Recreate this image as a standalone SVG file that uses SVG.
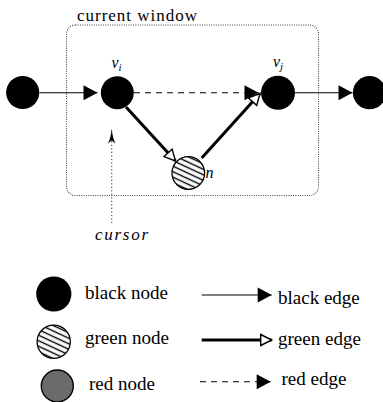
<svg xmlns="http://www.w3.org/2000/svg" width="383" height="402" viewBox="0 0 383 402">
<style>
.bn{fill:#000;}
.gn{fill:url(#hatch);stroke:#000;stroke-width:1.3;}
.rn{fill:#6b6b6b;stroke:#000;stroke-width:1.4;}
.be{stroke:#000;stroke-width:1.1;fill:none;marker-end:url(#fa);}
.ge{stroke:#000;stroke-width:3;fill:none;marker-end:url(#oa);}
.re{stroke:#000;stroke-width:1.1;fill:none;stroke-dasharray:6 5;marker-end:url(#fa);}
.cur{stroke:#555;stroke-width:1.2;fill:none;stroke-dasharray:1.3 2.2;marker-end:url(#ca);}
.win{fill:none;stroke:#444;stroke-width:1.1;stroke-dasharray:1 1.3;}
.tx{font-family:"Liberation Serif",serif;fill:#000;}
.it{font-family:"Liberation Serif",serif;font-style:italic;fill:#000;}
.lg{font-family:"Liberation Serif",serif;font-size:19px;fill:#000;}
</style>
<defs>
<pattern id="hatch" patternUnits="userSpaceOnUse" width="5" height="5" patternTransform="rotate(25)">
<rect width="5" height="5" fill="#fff"/>
<line x1="0" y1="2.5" x2="5" y2="2.5" stroke="#000" stroke-width="1.4"/>
</pattern>
<marker id="fa" markerUnits="userSpaceOnUse" markerWidth="16" markerHeight="17" refX="14" refY="7.5" orient="auto" overflow="visible">
<path d="M0,0 L14,7.5 L0,15 Z" fill="#000"/>
</marker>
<marker id="oa" markerUnits="userSpaceOnUse" markerWidth="16" markerHeight="16" refX="12" refY="6" orient="auto" overflow="visible">
<path d="M1,0.5 L12,6 L1,11.5 Z" fill="#fff" stroke="#000" stroke-width="1.4" stroke-linejoin="miter"/>
</marker>
<marker id="ca" markerUnits="userSpaceOnUse" markerWidth="16" markerHeight="10" refX="15" refY="4" orient="auto" overflow="visible">
<path d="M0,0 Q5,3.2 15,4 Q5,4.8 0,8 L3,4 Z" fill="#000"/>
</marker>
</defs>

<g id="window">
<rect class="win" x="66.5" y="25" width="252" height="170.5" rx="9"/>
<text class="tx" x="77" y="21" font-size="17" textLength="120" lengthAdjust="spacing">current window</text>
</g>

<g id="connectors">
<line class="be" x1="39.5" y1="92.7" x2="97.5" y2="92.7"/>
<line class="re" x1="134" y1="92.7" x2="258.5" y2="92.7"/>
<line class="be" x1="295" y1="92.7" x2="352.5" y2="92.7"/>
<line class="ge" x1="126" y1="107" x2="175.5" y2="161"/>
<line class="ge" x1="201.7" y1="158" x2="260" y2="93.5"/>
<line class="cur" x1="111.7" y1="223" x2="111.7" y2="128.5"/>
</g>

<g id="node-left"><circle class="bn" cx="22.7" cy="92.5" r="16.6"/></g>
<g id="node-vi">
<circle class="bn" cx="117.3" cy="92.7" r="16.5"/>
<text class="it" x="111.5" y="68" font-size="16">v<tspan font-size="11" dy="2.5">i</tspan></text>
</g>
<g id="node-vj">
<circle class="bn" cx="278" cy="92.7" r="17"/>
<text class="it" x="273" y="67" font-size="16">v<tspan font-size="11" dy="3">j</tspan></text>
</g>
<g id="node-right"><circle class="bn" cx="369.5" cy="92.7" r="16.6"/></g>
<g id="node-n">
<circle class="gn" cx="188.3" cy="173" r="16.3"/>
<text class="it" x="205.5" y="178" font-size="16">n</text>
</g>

<g id="cursor-label">
<text class="it" x="95" y="240" font-size="17" textLength="53" lengthAdjust="spacing">cursor</text>
</g>

<g id="legend">
<g id="legend-black-node">
<circle class="bn" cx="53.8" cy="294" r="17.6"/>
<text class="lg" x="85" y="298.5">black node</text>
</g>
<g id="legend-green-node">
<circle class="gn" cx="53.7" cy="341.7" r="16.6"/>
<text class="lg" x="85" y="343.5">green node</text>
</g>
<g id="legend-red-node">
<circle class="rn" cx="57.3" cy="386" r="16"/>
<text class="lg" x="89" y="390">red node</text>
</g>
<g id="legend-black-edge">
<line class="be" x1="201.7" y1="295" x2="271.7" y2="295"/>
<text class="lg" x="278" y="303.5">black edge</text>
</g>
<g id="legend-green-edge">
<line class="ge" x1="201.7" y1="340" x2="271.7" y2="340"/>
<text class="lg" x="278" y="345">green edge</text>
</g>
<g id="legend-red-edge">
<line class="re" x1="200" y1="381.7" x2="270.7" y2="381.7"/>
<text class="lg" x="281.5" y="385">red edge</text>
</g>
</g>
</svg>
